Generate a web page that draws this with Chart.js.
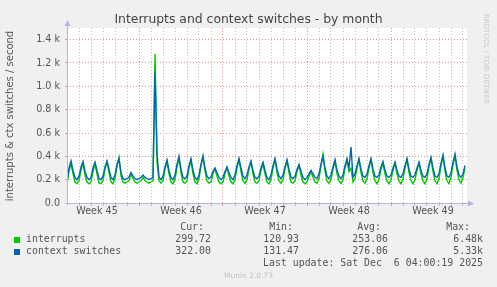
<!DOCTYPE html>
<html>
<head>
<meta charset="utf-8">
<script src="https://cdn.jsdelivr.net/npm/chart.js@4/dist/chart.umd.min.js"></script>
<style>
  html,body{margin:0;padding:0;background:#F0F0F0;}
  #wrap{position:relative;width:497px;height:287px;overflow:hidden;background:#F0F0F0;}
  canvas{position:absolute;left:0;top:0;}
  .t{position:absolute;white-space:pre;color:#555;}
  .mono{font-family:"DejaVu Sans Mono",monospace;font-size:9.9px;line-height:12px;}
  .r{text-align:right;}
  .sq{position:absolute;width:6px;height:6px;}
</style>
</head>
<body>
<div id="wrap">
<canvas id="c" width="497" height="287"></canvas>
<div class="t" style="left:0;width:497px;top:11px;text-align:center;font-family:'DejaVu Sans';font-size:12.4px;line-height:16px;color:#444;">Interrupts and context switches - by month</div>
<div class="t" style="left:10px;top:116px;width:0;height:0;"><div style="position:absolute;left:-100px;top:-7px;width:200px;text-align:center;font-family:'DejaVu Sans';font-size:10px;line-height:14px;color:#555;transform:rotate(-90deg);">interrupts &amp; ctx switches / second</div></div>
<div class="t" style="left:482px;top:14px;writing-mode:vertical-rl;font-family:'DejaVu Sans';font-size:7px;color:#c8c8c8;">RRDTOOL / TOBI OETIKER</div>
<div id="legend"></div>
<div class="t mono r" style="right:14px;top:257px;">Last update: Sat Dec  6 04:00:19 2025</div>
<div class="t" style="left:0;width:497px;top:270px;text-align:center;font-family:'DejaVu Sans';font-size:7.5px;line-height:12px;color:#c0c0c0;">Munin 2.0.73</div>
</div>
<script>
// ---- data (values per second, 4-hour steps starting at the left edge) ----
const seriesNames = ['interrupts', 'context switches'];
const seriesColors = ['#00CC00', '#0066B3'];
const interrupts = [
 160,270,340,250,180,165, 190,280,340,240,180,165, 180,270,330,250,170,165,
 190,290,350,260,180,165, 210,310,390,230,180,170, 180,190,250,210,180,170,
 180,190,220,190,180,170, 180,190,1280,350,190,170, 190,290,350,250,180,165,
 200,310,380,260,180,170, 190,300,360,250,180,165, 210,320,400,270,190,170,
 180,250,290,230,180,165, 180,250,300,230,180,165, 200,300,370,270,190,170,
 200,290,350,250,180,170, 190,280,330,250,180,165, 200,300,370,260,190,170,
 200,290,360,260,180,170, 190,270,320,240,180,165, 180,230,270,220,180,170,
 210,320,420,270,190,170, 200,290,360,250,190,170, 200,300,360,270,300,180,
 210,300,370,260,190,170, 210,300,370,260,190,165, 200,290,340,250,190,165,
 200,280,340,250,190,165, 210,300,370,260,190,165, 200,280,340,250,190,165,
 210,310,380,270,190,165, 210,320,400,270,190,165, 220,330,400,280,200,170,
 220,299.72
];
const contextSwitches = [
 190,300,360,280,220,200, 230,310,355,270,220,200, 220,300,350,280,210,200,
 230,310,360,290,220,200, 240,330,380,260,210,200, 210,220,260,230,210,200,
 210,220,240,220,210,200, 210,220,1130,430,220,200, 230,310,370,280,220,200,
 240,330,400,290,220,210, 230,320,380,280,220,200, 240,330,400,300,230,210,
 220,270,300,260,220,200, 220,270,310,260,220,200, 240,320,380,300,230,210,
 240,310,360,280,220,210, 230,300,350,280,220,200, 240,320,380,290,230,210,
 240,310,370,290,220,210, 230,290,330,270,220,200, 220,250,280,250,220,210,
 250,330,400,300,230,210, 240,310,370,280,230,210, 240,320,380,300,480,220,
 250,320,380,290,230,220, 250,320,380,290,230,220, 240,310,355,280,230,220,
 240,300,350,280,230,220, 250,320,380,290,230,220, 240,300,350,280,230,220,
 250,330,390,300,230,220, 250,340,410,300,230,220, 260,350,420,310,240,220,
 250,322
];
const weekLabels = ['Week 45', 'Week 46', 'Week 47', 'Week 48', 'Week 49'];
const weekCenters = [2.5, 9.5, 16.5, 23.5, 30.5];   // in days from left edge
const weekBounds = [6, 13, 20, 27];
const statHeaders = ['Cur:', 'Min:', 'Avg:', 'Max:'];
const statsInterrupts = ['299.72', '120.93', '253.06', '6.48k'];
const statsContext = ['322.00', '131.47', '276.06', '5.33k'];
const STEP_DAYS = 1/6;
const SPAN_DAYS = 400/12;

// ---- legend (HTML text) ----
(function(){
  const L = document.getElementById('legend');
  const headRight = [204, 293, 381, 470];
  const valRight = [211, 299, 388, 483];
  let h = '';
  statHeaders.forEach((s,i)=>{ h += `<div class="t mono r" style="right:${497-headRight[i]}px;top:221px;">${s}</div>`; });
  [statsInterrupts, statsContext].forEach((row,r)=>{
    const top = 233 + r*12;
    h += `<div class="sq" style="left:14px;top:${top+4}px;background:${seriesColors[r]}"></div>`;
    h += `<div class="t mono" style="left:26px;top:${top}px;">${seriesNames[r]}</div>`;
    row.forEach((s,i)=>{ h += `<div class="t mono r" style="right:${497-valRight[i]}px;top:${top}px;">${s}</div>`; });
  });
  L.innerHTML = h;
})();

const toPts = arr => arr.map((v,i)=>({x:i*STEP_DAYS, y:v}));
const MAJOR = 'rgba(225,110,110,0.75)';
const MINOR = 'rgba(170,170,170,0.75)';
const AXIS = '#b4b4e0';

const bgPlugin = {
  id:'bg',
  beforeDraw(chart){
    const a = chart.chartArea, c = chart.ctx;
    c.save(); c.fillStyle = '#FFFFFF'; c.fillRect(a.left, a.top, a.right-a.left, a.bottom-a.top); c.restore();
  },
  afterDraw(chart){
    const a = chart.chartArea, c = chart.ctx;
    const x0 = chart.scales.x.getPixelForValue(0), y0 = chart.scales.y.getPixelForValue(0);
    c.save();
    c.strokeStyle = AXIS; c.fillStyle = AXIS; c.lineWidth = 1;
    c.beginPath();
    c.moveTo(Math.round(x0)+0.5, Math.round(y0)+2); c.lineTo(Math.round(x0)+0.5, a.top-4);
    c.moveTo(Math.round(x0)-2, Math.round(y0)+0.5); c.lineTo(a.right+3, Math.round(y0)+0.5);
    c.stroke();
    c.beginPath();
    c.moveTo(Math.round(x0)+0.5, a.top-8); c.lineTo(Math.round(x0)-2.5, a.top-2); c.lineTo(Math.round(x0)+3.5, a.top-2); c.closePath(); c.fill();
    c.beginPath();
    c.moveTo(a.right+7, Math.round(y0)+0.5); c.lineTo(a.right+1, Math.round(y0)-2.5); c.lineTo(a.right+1, Math.round(y0)+3.5); c.closePath(); c.fill();
    c.restore();
  }
};

new Chart(document.getElementById('c'), {
  type:'line',
  data:{datasets:[
    {label:seriesNames[0], data:toPts(interrupts), borderColor:seriesColors[0], borderWidth:1.4, pointRadius:0, tension:0, order:2},
    {label:seriesNames[1], data:toPts(contextSwitches), borderColor:seriesColors[1], borderWidth:1.4, pointRadius:0, tension:0, order:1}
  ]},
  options:{
    responsive:false, animation:false, devicePixelRatio:1,
    layout:{padding:{left:0, top:28, right:30, bottom:64}},
    plugins:{legend:{display:false}, tooltip:{enabled:false}, title:{display:false}},
    scales:{
      x:{type:'linear', min:0, max:SPAN_DAYS, position:'bottom',
         afterBuildTicks(s){ const t=[]; for(let d=1; d<=33; d++) t.push({value:d}); s.ticks=t; },
         ticks:{display:false},
         grid:{drawTicks:true, tickLength:3,
               color:c=> weekBounds.includes(c.tick && c.tick.value) ? MAJOR : MINOR,
               tickColor:c=> weekBounds.includes(c.tick && c.tick.value) ? MAJOR : '#b4b4e0'},
         border:{display:false, dash:[1,2]},
         afterFit(s){ s.height = 0; }
      },
      xw:{type:'linear', min:0, max:SPAN_DAYS, position:'bottom',
          afterBuildTicks(s){ s.ticks = weekCenters.map(v=>({value:v})); },
          ticks:{callback:(v,i)=>weekLabels[i], autoSkip:false, maxRotation:0, padding:3,
                 font:{family:'DejaVu Sans', size:9.6}, color:'#555'},
          grid:{display:false, drawTicks:false}, border:{display:false},
          afterFit(s){ s.height = 20; }
      },
      y:{min:0, max:1500,
         afterBuildTicks(s){ const t=[]; for(let v=0; v<=1500; v+=100) t.push({value:v}); s.ticks=t; },
         ticks:{callback:v=> v%200===0 ? (v===0 ? '0.0' : (v/1000).toFixed(1)+' k') : '',
                padding:5, font:{family:'DejaVu Sans', size:9.6}, color:'#555'},
         grid:{drawTicks:true, tickLength:2,
               color:c=> (c.tick && c.tick.value===0) ? 'rgba(0,0,0,0)' : (c.tick && c.tick.value%200===0 ? MAJOR : MINOR),
               tickColor:c=> (c.tick && c.tick.value%200===0) ? MAJOR : '#b4b4e0'},
         border:{display:false, dash:[1,2]},
         afterFit(s){ s.width = 67; }
      }
    }
  },
  plugins:[bgPlugin]
});
</script>
</body>
</html>
